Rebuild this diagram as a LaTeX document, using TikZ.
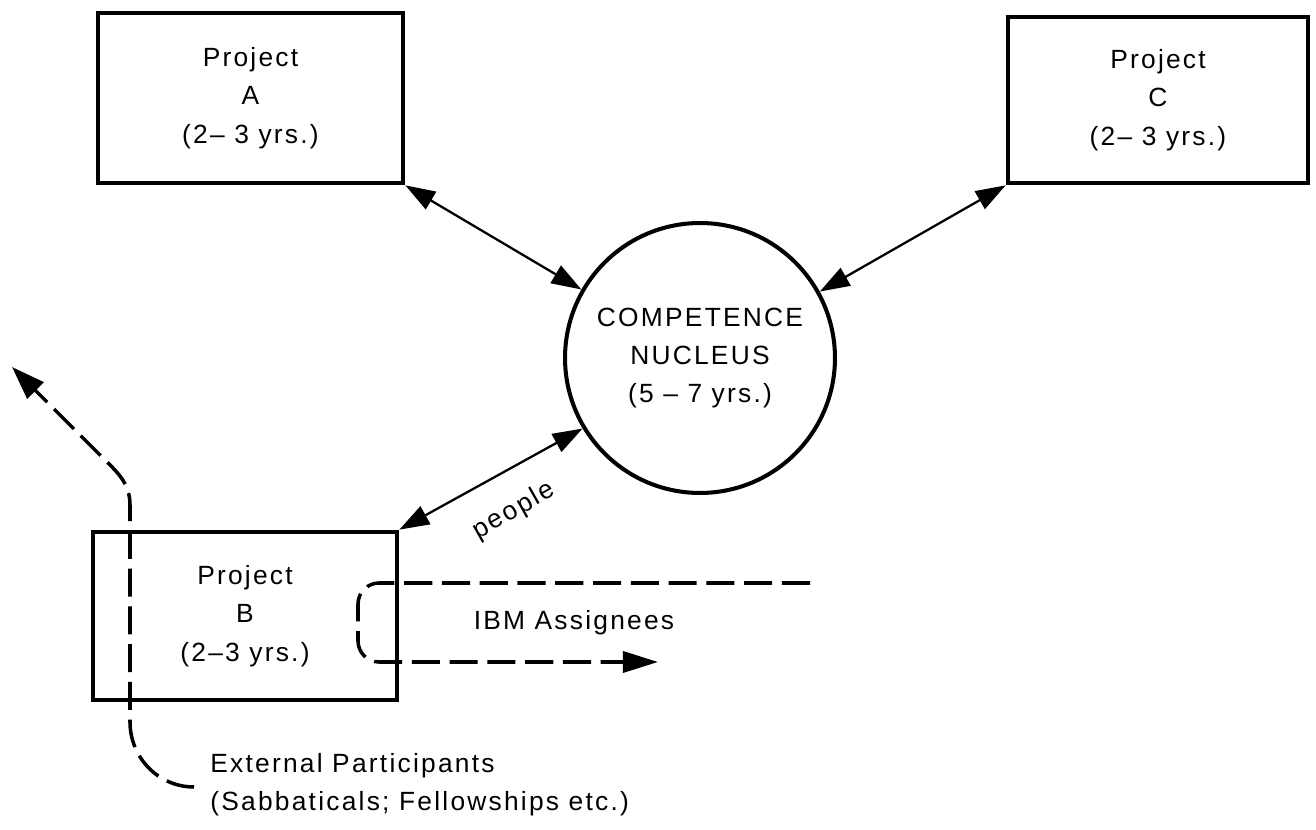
\documentclass[tikz,border=0pt]{standalone}
\usepackage{fontspec}
\setmainfont{Liberation Sans}[LetterSpace=8.5]
\usetikzlibrary{arrows.meta}
\newcommand\diagtxt{\fontsize{15}{21.8}\selectfont}
\begin{document}
\begin{tikzpicture}[x=0.02cm,y=-0.02cm,
  box/.style={draw, line width=2.7pt, inner sep=0pt, align=center, font=\diagtxt},
  nucleus/.style={draw, circle, line width=2.3pt, inner sep=0pt, align=center, font=\diagtxt, minimum size=5.4cm},
  label/.style={inner sep=0pt, align=left, font=\diagtxt},
  link/.style={line width=1.3pt, {Triangle[length=17pt,width=11.5pt]}-{Triangle[length=17pt,width=11.5pt]}},
  flow/.style={line width=2pt, dash pattern=on 16pt off 5.5pt},
]
\useasboundingbox (0,0) rectangle (1316,830);
\fill[white] (0,0) rectangle (1316,830);

\node[box, minimum width=6.1cm, minimum height=3.4cm] (A) at (250.5,98) {Project\\A\\(2– 3 yrs.)};
\node[box, minimum width=6.0cm, minimum height=3.32cm] (C) at (1158,100) {Project\\C\\(2– 3 yrs.)};
\node[box, minimum width=6.08cm, minimum height=3.36cm] (B) at (245,616) {Project\\B\\(2–3 yrs.)};
\node[nucleus] (N) at (700,358) {\fontsize{15}{22.5}\selectfont COMPETENCE\\NUCLEUS\\(5 – 7 yrs.)};

\draw[link] (A.south east) -- (N.150);
\draw[link] (C.south west) -- (N.29);
\draw[link] (B.north east) -- (N.211);
\node[label, rotate=29.5] (people) at (514,511) {people};

% IBM assignees
\coordinate (ibmS) at (810,583);
\coordinate (ibmE) at (658,662);
\draw[flow, rounded corners=12pt, -{Triangle[length=20pt,width=12pt]}]
  (ibmS) -- (358,583) -- (358,662) -- (ibmE);
\node[label] (ibm) at (574,623) {IBM Assignees};

% External participants
\coordinate (extS) at (194,787);
\coordinate (extE) at (12,367);
\draw[flow, -{Triangle[length=19pt,width=13pt]}]
  (extS) to[out=180,in=-90] (130,722) -- (130,505) to[out=90,in=-45] (100,455) -- (extE);
\node[label, anchor=west] (ext) at (210,785) {External Participants\\(Sabbaticals; Fellowships etc.)};
\end{tikzpicture}
\end{document}
